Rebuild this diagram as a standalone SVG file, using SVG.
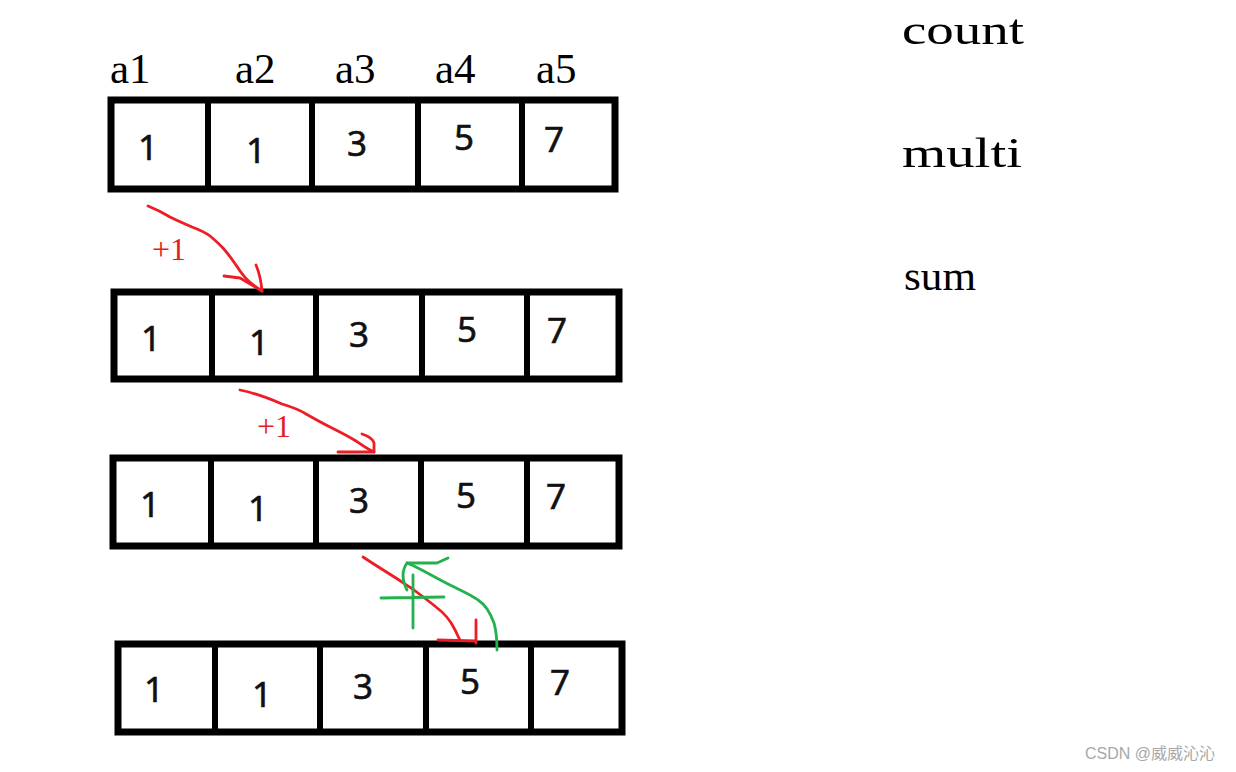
<svg xmlns="http://www.w3.org/2000/svg" width="1236" height="772" viewBox="0 0 1236 772">
<style>
.box{fill:#fff;stroke:#000;stroke-width:7}
.div{stroke:#000;stroke-width:6}
.num{font-family:"Noto Sans","Open Sans",sans-serif;font-size:35px;fill:#111;stroke:#111;stroke-width:0.6;text-anchor:middle}
.lab{font-family:"Liberation Serif",serif;font-size:43px;fill:#000}
.var{font-family:"Liberation Serif",serif;font-size:42px;fill:#000}
.plus{font-family:"Liberation Serif",serif;font-size:32px;fill:#e51c23}
.red{fill:none;stroke:#ee1c24;stroke-width:2.8;stroke-linecap:round;stroke-linejoin:round}
.green{fill:none;stroke:#22b14c;stroke-width:2.8;stroke-linecap:round;stroke-linejoin:round}
.wm{font-family:"Liberation Sans","Noto Sans CJK SC",sans-serif;font-size:16px;fill:#a8a8a8}
</style>
<rect width="1236" height="772" fill="#fff"/>
<g id="labels">
<text class="lab" x="110" y="83">a1</text>
<text class="lab" x="235" y="83">a2</text>
<text class="lab" x="335" y="83">a3</text>
<text class="lab" x="435" y="83">a4</text>
<text class="lab" x="536" y="83">a5</text>
</g>
<g id="row1">
<rect class="box" x="111" y="100" width="504" height="89"/>
<line class="div" x1="208" y1="100" x2="208" y2="189"/>
<line class="div" x1="312" y1="100" x2="312" y2="189"/>
<line class="div" x1="418" y1="100" x2="418" y2="189"/>
<line class="div" x1="522" y1="100" x2="522" y2="189"/>
<text class="num" x="148" y="160">1</text>
<text class="num" x="256" y="163">1</text>
<text class="num" x="357" y="156">3</text>
<text class="num" x="464" y="150">5</text>
<text class="num" x="554" y="152">7</text>
</g>
<g id="row2">
<rect class="box" x="114" y="292" width="505" height="87"/>
<line class="div" x1="212" y1="292" x2="212" y2="379"/>
<line class="div" x1="316" y1="292" x2="316" y2="379"/>
<line class="div" x1="422" y1="292" x2="422" y2="379"/>
<line class="div" x1="527" y1="292" x2="527" y2="379"/>
<text class="num" x="151" y="351">1</text>
<text class="num" x="259" y="355">1</text>
<text class="num" x="359" y="347">3</text>
<text class="num" x="467" y="342">5</text>
<text class="num" x="557" y="343">7</text>
</g>
<g id="row3">
<rect class="box" x="113" y="458" width="506" height="88"/>
<line class="div" x1="211" y1="458" x2="211" y2="546"/>
<line class="div" x1="316" y1="458" x2="316" y2="546"/>
<line class="div" x1="421" y1="458" x2="421" y2="546"/>
<line class="div" x1="527" y1="458" x2="527" y2="546"/>
<text class="num" x="150" y="517">1</text>
<text class="num" x="258" y="521">1</text>
<text class="num" x="359" y="513">3</text>
<text class="num" x="466" y="508">5</text>
<text class="num" x="556" y="509">7</text>
</g>
<g id="row4">
<rect class="box" x="118" y="644" width="504" height="88"/>
<line class="div" x1="215" y1="644" x2="215" y2="732"/>
<line class="div" x1="320" y1="644" x2="320" y2="732"/>
<line class="div" x1="426" y1="644" x2="426" y2="732"/>
<line class="div" x1="531" y1="644" x2="531" y2="732"/>
<text class="num" x="154" y="702">1</text>
<text class="num" x="262" y="707">1</text>
<text class="num" x="363" y="699">3</text>
<text class="num" x="470" y="694">5</text>
<text class="num" x="560" y="695">7</text>
</g>
<g id="vars">
<text class="var" x="902" y="44" textLength="122" lengthAdjust="spacingAndGlyphs">count</text>
<text class="var" x="902" y="167" textLength="120" lengthAdjust="spacingAndGlyphs">multi</text>
<text class="var" x="904" y="290" textLength="72" lengthAdjust="spacingAndGlyphs">sum</text>
</g>
<g id="connectors">
<path class="red" d="M148,206 C158,210 165,214 170,217 C178,221 185,224 192,227 C200,230 206,233 210,236 C215,240 219,244 222,247 C227,252 231,258 236,265 C241,273 247,282 262,291"/>
<path class="red" d="M224,276 L240,278 L262,291 M256,265 C259,272 261,280 262,291"/>
<text class="plus" x="152" y="260">+1</text>
<path class="red" d="M240,390 C255,393 268,398 282,404 C292,407 300,410 306,414 C315,419 322,423 330,427 C340,432 348,436 356,441 C362,445 367,449 374,452"/>
<path class="red" d="M338,452 L374,452 M362,434 C368,436 373,439 374,443 L374,452"/>
<text class="plus" x="257" y="437">+1</text>
<path class="red" d="M363,557 C372,563 380,568 388,573 C398,579 406,585 414,590 C422,596 430,602 436,607 C444,613 450,620 454,628 C457,633 458,637 460,640"/>
<path class="red" d="M438,640 L476,641 M476,620 L476,643"/>
<path class="green" d="M497,650 C497,640 496,630 494,623 C490,612 486,605 478,600 C470,594 460,590 450,585 C438,579 426,572 414,566 L407,563 C402,570 402,580 407,590"/>
<path class="green" d="M407,563 L437,563 L448,558"/>
<path class="green" d="M381,598 L444,597 M413,575 L413,628"/>
</g>
<text class="wm" x="1085" y="759">CSDN @威威沁沁</text>
</svg>
